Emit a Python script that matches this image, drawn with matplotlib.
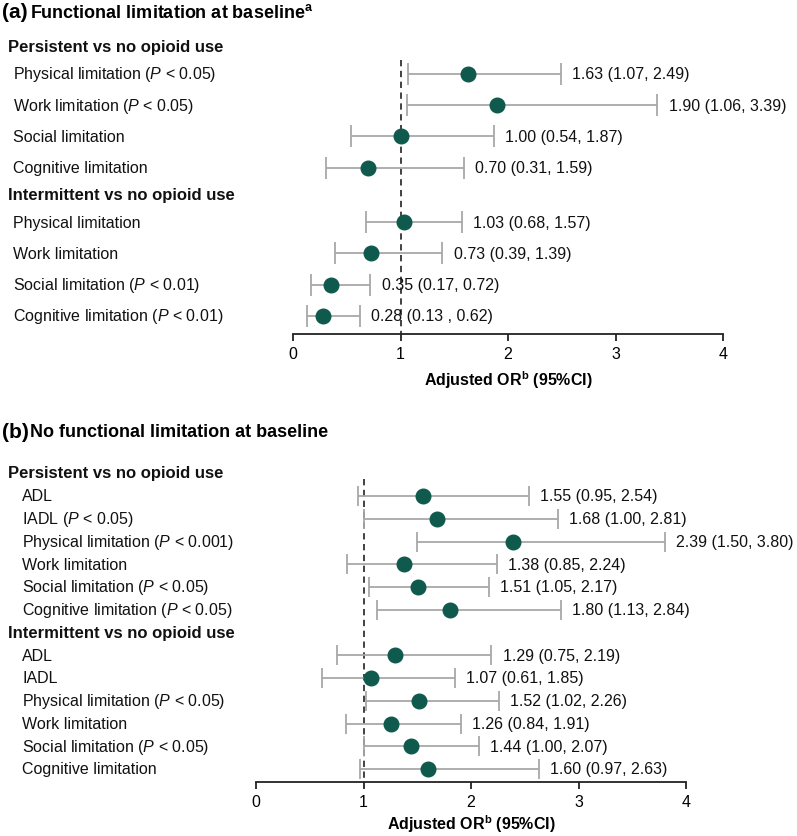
import matplotlib
matplotlib.use('Agg')
import matplotlib.pyplot as plt
import matplotlib.transforms as mtransforms

plt.rcParams['font.family'] = ['Liberation Sans', 'DejaVu Sans']
plt.rcParams['mathtext.fontset'] = 'custom'
plt.rcParams['mathtext.rm'] = 'Liberation Sans'
plt.rcParams['mathtext.it'] = 'Liberation Sans:italic'
plt.rcParams['mathtext.bf'] = 'Liberation Sans:bold'

# === DATA ===
# panel (a): functional limitation at baseline
a_groups = ['Persistent vs no opioid use', 'Intermittent vs no opioid use']
a_items = ['Physical limitation', 'Work limitation', 'Social limitation', 'Cognitive limitation']
a_pvals = ['< 0.05', '< 0.05', '', '',
           '', '', '< 0.01', '< 0.01']
a_or = [1.63, 1.90, 1.00, 0.70, 1.03, 0.73, 0.35, 0.28]
a_lo = [1.07, 1.06, 0.54, 0.31, 0.68, 0.39, 0.17, 0.13]
a_hi = [2.49, 3.39, 1.87, 1.59, 1.57, 1.39, 0.72, 0.62]
a_txt = ['1.63 (1.07, 2.49)', '1.90 (1.06, 3.39)', '1.00 (0.54, 1.87)', '0.70 (0.31, 1.59)',
         '1.03 (0.68, 1.57)', '0.73 (0.39, 1.39)', '0.35 (0.17, 0.72)', '0.28 (0.13 , 0.62)']

# panel (b): no functional limitation at baseline
b_groups = ['Persistent vs no opioid use', 'Intermittent vs no opioid use']
b_items = ['ADL', 'IADL', 'Physical limitation', 'Work limitation',
           'Social limitation', 'Cognitive limitation']
b_pvals = ['', '< 0.05', '< 0.001', '', '< 0.05', '< 0.05',
           '', '', '< 0.05', '', '< 0.05', '']
b_or = [1.55, 1.68, 2.39, 1.38, 1.51, 1.80, 1.29, 1.07, 1.52, 1.26, 1.44, 1.60]
b_lo = [0.95, 1.00, 1.50, 0.85, 1.05, 1.13, 0.75, 0.61, 1.02, 0.84, 1.00, 0.97]
b_hi = [2.54, 2.81, 3.80, 2.24, 2.17, 2.84, 2.19, 1.85, 2.26, 1.91, 2.07, 2.63]
b_txt = ['1.55 (0.95, 2.54)', '1.68 (1.00, 2.81)', '2.39 (1.50, 3.80)', '1.38 (0.85, 2.24)',
         '1.51 (1.05, 2.17)', '1.80 (1.13, 2.84)', '1.29 (0.75, 2.19)', '1.07 (0.61, 1.85)',
         '1.52 (1.02, 2.26)', '1.26 (0.84, 1.91)', '1.44 (1.00, 2.07)', '1.60 (0.97, 2.63)']

xticks = [0, 1, 2, 3, 4]

W, H = 797, 837
POINT = '#0f5a4d'
BAR = '#a8a8a8'
FS = 11.5


def label_of(item, p):
    if p:
        return item + r' ($\it{P}$' + ' ' + p + ')'
    return item


def draw_panel(ax, groups, items, pvals, ors, los, his, txts,
               rows, heads, ylim, dash_top, label_x, capsize, labelpad):
    n = len(items)
    ax.set_xlim(0, 4)
    ax.set_ylim(*ylim)
    ax.errorbar(ors, rows, xerr=[[o - l for o, l in zip(ors, los)],
                                 [h - o for o, h in zip(ors, his)]],
                fmt='none', ecolor=BAR, elinewidth=1.3, capsize=capsize,
                capthick=1.3, zorder=2)
    ax.plot(ors, rows, 'o', color=POINT, ms=10.5, zorder=3)
    ax.vlines(1, dash_top, ylim[0], colors='#333333', linestyles=(0, (3.5, 2.5)),
              lw=1.3, zorder=1)
    for o, h, y, t in zip(ors, his, rows, txts):
        ax.annotate(t, (h, y), xytext=(8, 0), textcoords='offset points',
                    va='center', ha='left', fontsize=FS, color='#111111')

    trans = mtransforms.blended_transform_factory(fig.transFigure, ax.transData)
    for g, hy in zip(groups, heads):
        ax.text(8 / W, hy, g, transform=trans, fontsize=12, fontweight='bold',
                va='center', ha='left', color='#111111')
    for i, y in enumerate(rows):
        ax.text(label_x / W, y, label_of(items[i % n], pvals[i]), transform=trans,
                fontsize=FS, va='center', ha='left', color='#111111')

    for s in ['top', 'right', 'left']:
        ax.spines[s].set_visible(False)
    ax.spines['bottom'].set_linewidth(1.3)
    ax.spines['bottom'].set_color('#222222')
    ax.set_yticks([])
    ax.set_xticks(xticks)
    ax.tick_params(axis='x', length=5, width=1.3, color='#222222',
                   labelsize=FS, pad=4)
    ax.set_xlabel(r'Adjusted OR$^{\mathbf{b}}$ (95%CI)', fontsize=FS,
                  fontweight='bold', labelpad=labelpad)


fig = plt.figure(figsize=(W / 100, H / 100), dpi=100)

# panel (a) layout, in pixels
sa = 31.2
top_a = 75 - 1.2 * sa
ax_a = fig.add_axes([293 / W, 1 - 335 / H, (723 - 293) / W, (335 - top_a) / H])
rows_a = [0, 1, 2, 3, 4.75, 5.75, 6.75, 7.75]
draw_panel(ax_a, a_groups, a_items, a_pvals, a_or, a_lo, a_hi, a_txt,
           rows_a, [-0.87, 3.87], ((335 - 75) / sa, -1.2), -0.45, 13, 8, 5)

# panel (b) layout, in pixels
sb = 22.75
top_b = 497 - 1.3 * sb
ax_b = fig.add_axes([256 / W, 1 - 783 / H, (686 - 256) / W, (783 - top_b) / H])
rows_b = [0, 1, 2, 3, 4, 5, 7, 8, 9, 10, 11, 12]
draw_panel(ax_b, b_groups, b_items, b_pvals, b_or, b_lo, b_hi, b_txt,
           rows_b, [-1.05, 5.98], ((783 - 497) / sb, -1.3), -0.75, 22, 7, 2)

# titles
fig.text(2 / W, 1 - 13 / H, '(a)', fontsize=15, fontweight='bold', va='center')
fig.text(30 / W, 1 - 13 / H, r'Functional limitation at baseline$^{\mathbf{a}}$',
         fontsize=13, fontweight='bold', va='center')
fig.text(2 / W, 1 - 433 / H, '(b)', fontsize=15, fontweight='bold', va='center')
fig.text(30 / W, 1 - 433 / H, 'No functional limitation at baseline',
         fontsize=13, fontweight='bold', va='center')

fig.savefig('out.png', dpi=100)
